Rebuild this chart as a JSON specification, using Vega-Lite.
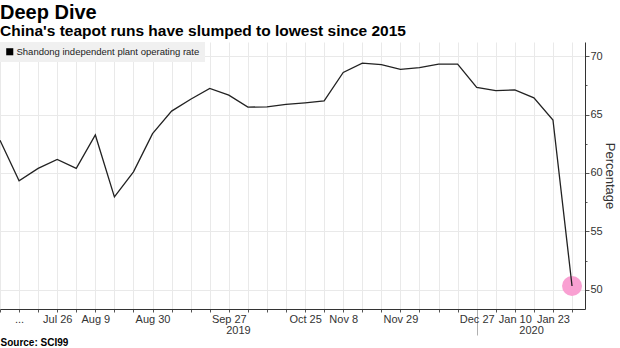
{
  "$schema": "https://vega.github.io/schema/vega-lite/v6.json",
  "width": 585,
  "height": 267,
  "autosize": {"type": "none"},
  "padding": {"left": 0, "top": 42, "right": 35, "bottom": 39},
  "background": "#ffffff",
  "title": {
    "text": "Deep Dive",
    "subtitle": "China's teapot runs have slumped to lowest since 2015",
    "anchor": "start",
    "frame": "group",
    "offset": 3,
    "font": "Liberation Sans",
    "fontSize": 20,
    "fontWeight": "bold",
    "color": "#000000",
    "subtitleFont": "Liberation Sans",
    "subtitleFontSize": 15.5,
    "subtitleFontWeight": "bold",
    "subtitleColor": "#000000",
    "subtitlePadding": 1
  },
  "config": {
    "view": {"stroke": null},
    "axis": {"labelFont": "Liberation Sans", "titleFont": "Liberation Sans"}
  },
  "data": {
    "values": [
      {"week": 0, "date": "Jul 5", "value": 62.8, "series": "Shandong independent plant operating rate"},
      {"week": 1, "date": "Jul 12", "value": 59.33, "series": "Shandong independent plant operating rate"},
      {"week": 2, "date": "Jul 19", "value": 60.39, "series": "Shandong independent plant operating rate"},
      {"week": 3, "date": "Jul 26", "value": 61.16, "series": "Shandong independent plant operating rate"},
      {"week": 4, "date": "Aug 2", "value": 60.39, "series": "Shandong independent plant operating rate"},
      {"week": 5, "date": "Aug 9", "value": 63.25, "series": "Shandong independent plant operating rate"},
      {"week": 6, "date": "Aug 16", "value": 57.96, "series": "Shandong independent plant operating rate"},
      {"week": 7, "date": "Aug 23", "value": 60.1, "series": "Shandong independent plant operating rate"},
      {"week": 8, "date": "Aug 30", "value": 63.36, "series": "Shandong independent plant operating rate"},
      {"week": 9, "date": "Sep 6", "value": 65.29, "series": "Shandong independent plant operating rate"},
      {"week": 10, "date": "Sep 13", "value": 66.3, "series": "Shandong independent plant operating rate"},
      {"week": 11, "date": "Sep 20", "value": 67.23, "series": "Shandong independent plant operating rate"},
      {"week": 12, "date": "Sep 27", "value": 66.66, "series": "Shandong independent plant operating rate"},
      {"week": 13, "date": "Oct 4", "value": 65.63, "series": "Shandong independent plant operating rate"},
      {"week": 14, "date": "Oct 11", "value": 65.66, "series": "Shandong independent plant operating rate"},
      {"week": 15, "date": "Oct 18", "value": 65.86, "series": "Shandong independent plant operating rate"},
      {"week": 16, "date": "Oct 25", "value": 66.0, "series": "Shandong independent plant operating rate"},
      {"week": 17, "date": "Nov 1", "value": 66.16, "series": "Shandong independent plant operating rate"},
      {"week": 18, "date": "Nov 8", "value": 68.6, "series": "Shandong independent plant operating rate"},
      {"week": 19, "date": "Nov 15", "value": 69.4, "series": "Shandong independent plant operating rate"},
      {"week": 20, "date": "Nov 22", "value": 69.26, "series": "Shandong independent plant operating rate"},
      {"week": 21, "date": "Nov 29", "value": 68.86, "series": "Shandong independent plant operating rate"},
      {"week": 22, "date": "Dec 6", "value": 69.0, "series": "Shandong independent plant operating rate"},
      {"week": 23, "date": "Dec 13", "value": 69.31, "series": "Shandong independent plant operating rate"},
      {"week": 24, "date": "Dec 20", "value": 69.31, "series": "Shandong independent plant operating rate"},
      {"week": 25, "date": "Dec 27", "value": 67.31, "series": "Shandong independent plant operating rate"},
      {"week": 26, "date": "Jan 3", "value": 67.05, "series": "Shandong independent plant operating rate"},
      {"week": 27, "date": "Jan 10", "value": 67.1, "series": "Shandong independent plant operating rate"},
      {"week": 28, "date": "Jan 17", "value": 66.42, "series": "Shandong independent plant operating rate"},
      {"week": 29, "date": "Jan 23", "value": 64.53, "series": "Shandong independent plant operating rate"},
      {"week": 30, "date": "Feb 7", "value": 50.34, "series": "Shandong independent plant operating rate", "latest": true}
    ]
  },
  "encoding": {
    "x": {
      "field": "week",
      "type": "quantitative",
      "scale": {"domain": [0, 30.68], "nice": false, "zero": false},
      "axis": {
        "orient": "bottom",
        "values": [0,1,2,3,4,5,6,7,8,9,10,11,12,12.48,13,14,15,16,17,18,19,20,21,22,23,24,25,25.001,26,27,27.85,28,29,30],
        "labelExpr": "datum.value == 1 ? '...' : datum.value == 3 ? 'Jul 26' : datum.value == 5 ? 'Aug 9' : datum.value == 8 ? 'Aug 30' : datum.value == 12 ? 'Sep 27' : datum.value == 12.48 ? '2019' : datum.value == 16 ? 'Oct 25' : datum.value == 18 ? 'Nov 8' : datum.value == 21 ? 'Nov 29' : datum.value == 25 ? 'Dec 27' : datum.value == 27 ? 'Jan 10' : datum.value == 27.85 ? '2020' : datum.value == 29 ? 'Jan 23' : ''",
        "labelOverlap": false,
        "labelFlush": false,
        "labelBound": false,
        "labelFontSize": 11,
        "labelColor": "#333333",
        "labelPadding": {"condition": {"test": "datum.value == 12.48 || datum.value == 27.85", "value": 12}, "value": 1},
        "tickSize": {"condition": {"test": "datum.value == 25.001", "value": 26}, "value": 3},
        "tickOpacity": {"condition": {"test": "datum.value == 12.48 || datum.value == 27.85", "value": 0}, "value": 1},
        "tickColor": {"condition": {"test": "datum.value == 25.001", "value": "#b0b0b0"}, "value": "#555555"},
        "grid": true,
        "gridColor": "#e9e9e9",
        "gridOpacity": {"condition": {"test": "datum.value == 12.48 || datum.value == 27.85 || datum.value == 25.001", "value": 0}, "value": 1},
        "domainColor": "#333333",
        "domainWidth": 1,
        "title": "Source: SCI99",
        "titleX": 0,
        "titleY": 36,
        "titleAlign": "left",
        "titleAnchor": "start",
        "titleBaseline": "alphabetic",
        "titleFontSize": 10,
        "titleFontWeight": "bold",
        "titleColor": "#000000"
      }
    },
    "y": {
      "field": "value",
      "type": "quantitative",
      "scale": {"domain": [48.37, 71.2], "nice": false, "zero": false},
      "axis": {
        "orient": "right",
        "values": [50, 52.5, 55, 57.5, 60, 62.5, 65, 67.5, 70],
        "labelExpr": "datum.value % 5 == 0 ? datum.label : ''",
        "labelFontSize": 11,
        "labelColor": "#333333",
        "labelPadding": 1,
        "tickSize": {"condition": {"test": "datum.value % 5 == 0", "value": 4}, "value": 2},
        "tickColor": "#555555",
        "grid": true,
        "gridColor": "#e9e9e9",
        "gridOpacity": {"condition": {"test": "datum.value % 5 == 0", "value": 1}, "value": 0},
        "domainColor": "#333333",
        "title": "Percentage",
        "titleFontSize": 13,
        "titleFontWeight": "normal",
        "titleColor": "#333333",
        "titlePadding": 0
      }
    }
  },
  "layer": [
    {
      "transform": [{"filter": "datum.latest === true"}],
      "mark": {"type": "point", "filled": true, "size": 400, "color": "#f9a0d2", "opacity": 1}
    },
    {
      "mark": {"type": "line", "strokeWidth": 1.3},
      "encoding": {
        "color": {
          "field": "series",
          "type": "nominal",
          "scale": {"range": ["#222222"]},
          "legend": {
            "title": null,
            "orient": "top-left",
            "offset": 0,
            "fillColor": "#f0f0f0",
            "padding": 5,
            "labelLimit": 400,
            "symbolType": "square",
            "symbolSize": 50,
            "symbolFillColor": "#000000",
            "symbolStrokeColor": "#000000",
            "symbolStrokeWidth": 0,
            "labelFont": "Liberation Sans",
            "labelFontSize": 9.5,
            "labelColor": "#222222",
            "labelOffset": 2
          }
        }
      }
    }
  ]
}
